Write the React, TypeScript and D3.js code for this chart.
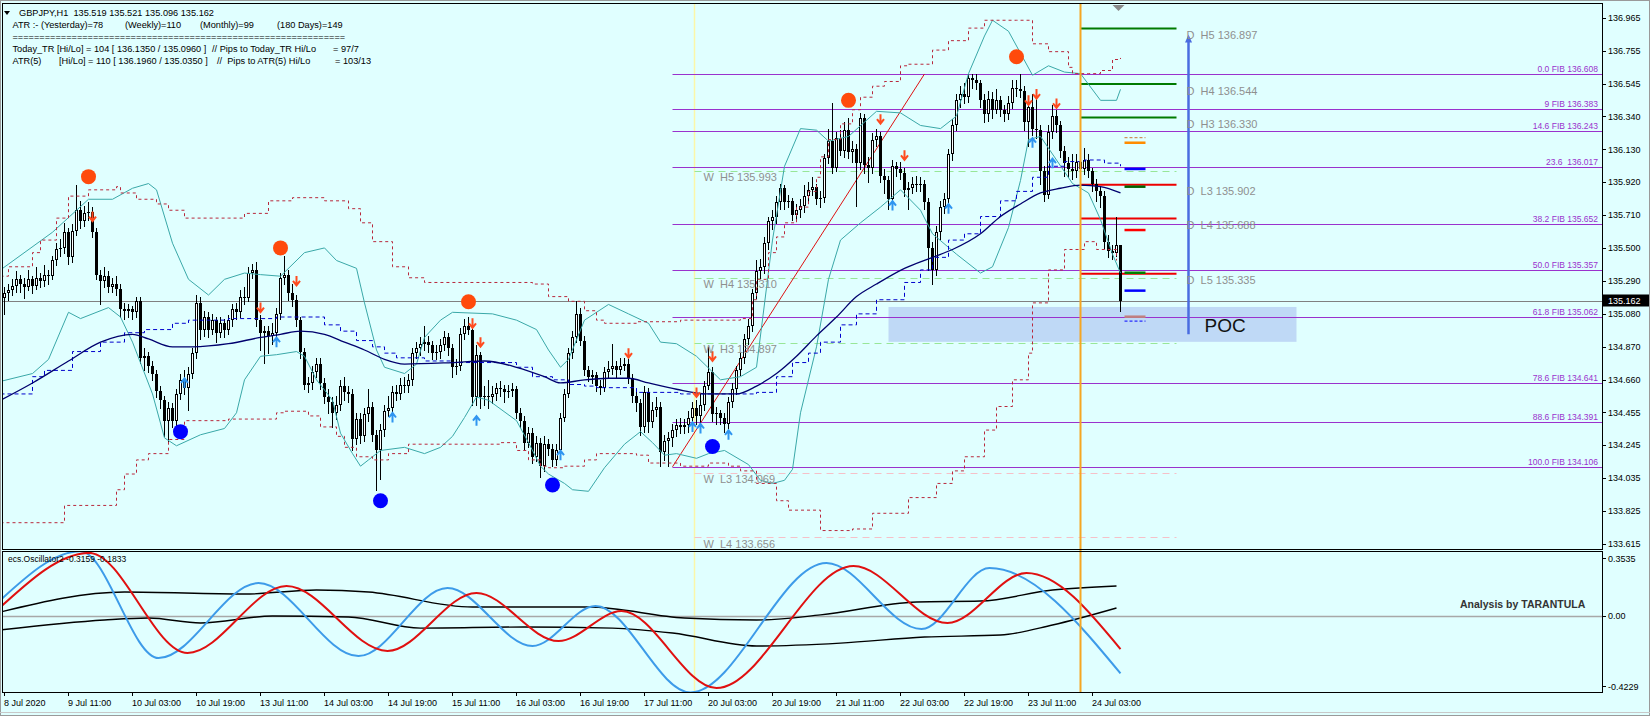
import React from "react";
import * as d3 from "d3";

// ---------------- DATA ----------------
// H1 candles [open, high, low, close]; bar 0 = 8 Jul 2020 19:00
const candles: number[][] = [
  [135.18,135.25,135.08,135.21],[135.21,135.27,135.17,135.23],[135.23,135.30,135.20,135.26],[135.26,135.35,135.22,135.30],[135.30,135.33,135.22,135.27],[135.27,135.31,135.18,135.25],[135.25,135.36,135.23,135.30],[135.30,135.32,135.21,135.26],
  [135.26,135.38,135.24,135.31],[135.31,135.34,135.25,135.29],[135.29,135.39,135.26,135.33],[135.33,135.36,135.27,135.32],[135.32,135.45,135.30,135.42],[135.42,135.53,135.39,135.49],[135.49,135.56,135.45,135.50],[135.50,135.66,135.47,135.60],
  [135.60,135.63,135.40,135.44],[135.44,135.65,135.41,135.61],[135.61,135.90,135.58,135.74],[135.74,135.80,135.63,135.67],[135.67,135.77,135.64,135.72],[135.72,135.79,135.68,135.73],[135.73,135.76,135.57,135.60],[135.60,135.63,135.30,135.33],
  [135.33,135.36,135.14,135.29],[135.29,135.38,135.25,135.32],[135.32,135.35,135.22,135.25],[135.25,135.31,135.22,135.27],[135.27,135.32,135.20,135.24],[135.24,135.27,135.06,135.11],[135.11,135.15,135.05,135.10],[135.10,135.14,135.06,135.11],
  [135.11,135.13,135.05,135.09],[135.09,135.19,135.06,135.16],[135.16,135.19,134.77,134.80],[134.80,134.86,134.72,134.81],[134.81,134.84,134.71,134.75],[134.75,134.78,134.66,134.70],[134.70,134.72,134.55,134.59],[134.59,134.62,134.48,134.53],
  [134.53,134.56,134.30,134.40],[134.40,134.52,134.27,134.48],[134.48,134.51,134.36,134.40],[134.40,134.60,134.37,134.57],[134.57,134.70,134.54,134.66],[134.66,134.72,134.57,134.61],[134.61,134.74,134.47,134.70],[134.70,134.86,134.67,134.83],
  [134.83,135.20,134.80,135.15],[135.15,135.19,134.92,134.98],[134.98,135.10,134.94,135.06],[135.06,135.09,134.93,134.98],[134.98,135.08,134.95,135.04],[135.04,135.06,134.90,134.96],[134.96,135.06,134.93,135.02],[135.02,135.05,134.93,134.98],
  [134.98,135.07,134.95,135.04],[135.04,135.14,135.00,135.11],[135.11,135.15,135.05,135.09],[135.09,135.23,135.06,135.19],[135.19,135.25,135.14,135.18],[135.18,135.38,135.16,135.34],[135.34,135.40,135.31,135.36],[135.36,135.41,135.00,135.04],
  [135.04,135.07,134.85,134.96],[134.96,135.00,134.77,134.97],[134.97,135.00,134.83,134.94],[134.94,135.02,134.89,134.96],[134.96,135.12,134.92,135.08],[135.08,135.34,135.05,135.31],[135.31,135.45,135.27,135.33],[135.33,135.36,135.17,135.21],
  [135.21,135.27,135.13,135.17],[135.17,135.20,135.00,135.04],[135.04,135.06,134.80,134.84],[134.84,134.86,134.60,134.63],[134.63,134.68,134.58,134.64],[134.64,134.75,134.60,134.71],[134.71,134.80,134.68,134.76],[134.76,134.80,134.60,134.64],
  [134.64,134.67,134.51,134.55],[134.55,134.60,134.45,134.52],[134.52,134.55,134.36,134.45],[134.45,134.56,134.41,134.50],[134.50,134.66,134.47,134.62],[134.62,134.68,134.53,134.58],[134.58,134.62,134.52,134.57],[134.57,134.60,134.21,134.28],
  [134.28,134.45,134.25,134.41],[134.41,134.45,134.26,134.30],[134.30,134.48,134.27,134.44],[134.44,134.60,134.40,134.49],[134.49,134.52,134.27,134.31],[134.31,134.34,133.96,134.21],[134.21,134.38,134.03,134.34],[134.34,134.50,134.30,134.46],
  [134.46,134.56,134.43,134.48],[134.48,134.62,134.44,134.58],[134.58,134.63,134.53,134.57],[134.57,134.67,134.54,134.63],[134.63,134.68,134.58,134.62],[134.62,134.70,134.58,134.66],[134.66,134.86,134.63,134.83],[134.83,134.90,134.80,134.86],
  [134.86,134.93,134.82,134.89],[134.89,135.00,134.85,134.90],[134.90,134.94,134.84,134.88],[134.88,134.91,134.79,134.83],[134.83,134.88,134.79,134.84],[134.84,134.92,134.80,134.88],[134.88,134.97,134.85,134.93],[134.93,134.96,134.82,134.86],
  [134.86,134.89,134.68,134.74],[134.74,134.79,134.70,134.75],[134.75,134.99,134.72,134.95],[134.95,135.05,134.92,135.00],[135.00,135.06,134.95,134.98],[134.98,135.01,134.50,134.55],[134.55,134.88,134.50,134.82],[134.82,134.84,134.48,134.55],
  [134.55,134.62,134.50,134.56],[134.56,134.66,134.48,134.55],[134.55,134.62,134.51,134.57],[134.57,134.64,134.53,134.61],[134.61,134.65,134.56,134.60],[134.60,134.63,134.52,134.58],[134.58,134.63,134.55,134.59],[134.59,134.64,134.56,134.60],
  [134.60,134.62,134.42,134.45],[134.45,134.48,134.36,134.40],[134.40,134.43,134.22,134.26],[134.26,134.36,134.23,134.32],[134.32,134.35,134.13,134.17],[134.17,134.30,134.14,134.26],[134.26,134.29,134.04,134.11],[134.11,134.30,134.08,134.25],
  [134.25,134.28,134.18,134.22],[134.22,134.25,134.11,134.15],[134.15,134.25,134.12,134.21],[134.21,134.45,134.19,134.42],[134.42,134.60,134.40,134.57],[134.57,134.86,134.55,134.83],[134.83,134.97,134.80,134.93],[134.93,135.16,134.90,135.08],
  [135.08,135.12,134.88,134.91],[134.91,134.94,134.69,134.72],[134.72,134.75,134.65,134.68],[134.68,134.72,134.64,134.69],[134.69,134.71,134.59,134.62],[134.62,134.66,134.57,134.61],[134.61,134.74,134.59,134.71],[134.71,134.78,134.68,134.73],
  [134.73,134.89,134.70,134.75],[134.75,134.78,134.68,134.72],[134.72,134.80,134.70,134.75],[134.75,134.80,134.72,134.76],[134.76,134.79,134.64,134.67],[134.67,134.70,134.52,134.56],[134.56,134.60,134.46,134.51],[134.51,134.54,134.31,134.36],
  [134.36,134.62,134.33,134.58],[134.58,134.61,134.33,134.39],[134.39,134.52,134.36,134.47],[134.47,134.55,134.43,134.49],[134.49,134.52,134.11,134.20],[134.20,134.31,134.15,134.27],[134.27,134.33,134.11,134.29],[134.29,134.38,134.24,134.34],
  [134.34,134.41,134.30,134.37],[134.37,134.42,134.32,134.36],[134.36,134.41,134.32,134.37],[134.37,134.46,134.33,134.42],[134.42,134.52,134.38,134.48],[134.48,134.53,134.38,134.43],[134.43,134.57,134.38,134.50],[134.50,134.65,134.47,134.62],
  [134.62,134.87,134.60,134.71],[134.71,134.74,134.40,134.44],[134.44,134.49,134.38,134.45],[134.45,134.47,134.38,134.42],[134.42,134.45,134.33,134.38],[134.38,134.55,134.35,134.52],[134.52,134.64,134.49,134.60],[134.60,134.75,134.57,134.72],
  [134.72,134.84,134.69,134.80],[134.80,134.95,134.77,134.92],[134.92,135.05,134.89,135.00],[135.00,135.24,134.97,135.21],[135.21,135.42,135.18,135.35],[135.35,135.43,135.31,135.38],[135.38,135.57,135.34,135.53],[135.53,135.70,135.49,135.67],
  [135.67,135.74,135.62,135.70],[135.70,135.83,135.66,135.79],[135.79,135.91,135.75,135.88],[135.88,135.90,135.75,135.79],[135.79,135.84,135.76,135.80],[135.80,135.82,135.68,135.71],[135.71,135.78,135.68,135.74],[135.74,135.81,135.70,135.77],
  [135.77,135.90,135.73,135.83],[135.83,135.92,135.79,135.87],[135.87,135.95,135.84,135.89],[135.89,135.91,135.78,135.81],[135.81,135.86,135.76,135.82],[135.82,136.10,135.79,136.07],[136.07,136.26,136.04,136.18],[136.18,136.42,135.98,136.01],
  [136.01,136.24,135.99,136.20],[136.20,136.25,136.09,136.12],[136.12,136.30,136.08,136.25],[136.25,136.33,136.07,136.11],[136.11,136.18,136.05,136.13],[136.13,136.16,135.77,136.04],[136.04,136.36,136.00,136.33],[136.33,136.35,135.98,136.03],
  [136.03,136.08,135.92,136.01],[136.01,136.23,135.98,136.19],[136.19,136.26,136.15,136.21],[136.21,136.24,135.92,135.96],[135.96,136.00,135.85,135.93],[135.93,135.96,135.75,135.81],[135.81,136.06,135.78,136.02],[136.02,136.05,135.96,136.00],
  [136.00,136.05,135.94,135.98],[135.98,136.01,135.83,135.87],[135.87,135.92,135.75,135.88],[135.88,135.95,135.85,135.91],[135.91,135.96,135.86,135.90],[135.90,135.95,135.86,135.91],[135.91,135.93,135.75,135.79],[135.79,135.82,135.36,135.50],
  [135.50,135.54,135.27,135.36],[135.36,135.64,135.33,135.60],[135.60,135.80,135.56,135.76],[135.76,135.85,135.72,135.81],[135.81,136.13,135.78,136.10],[136.10,136.32,136.06,136.28],[136.28,136.48,136.25,136.44],[136.44,136.53,136.40,136.48],
  [136.48,136.55,136.42,136.46],[136.46,136.61,136.43,136.58],[136.58,136.61,136.52,136.57],[136.57,136.61,136.51,136.55],[136.55,136.57,136.40,136.44],[136.44,136.48,136.30,136.35],[136.35,136.50,136.31,136.45],[136.45,136.49,136.33,136.38],
  [136.38,136.51,136.36,136.44],[136.44,136.47,136.34,136.38],[136.38,136.41,136.31,136.35],[136.35,136.47,136.32,136.42],[136.42,136.57,136.39,136.52],[136.52,136.57,136.47,136.51],[136.51,136.61,136.46,136.50],[136.50,136.53,136.25,136.30],
  [136.30,136.46,136.15,136.40],[136.40,136.48,136.22,136.26],[136.26,136.45,136.20,136.25],[136.25,136.28,135.91,135.99],[135.99,136.02,135.80,135.84],[135.84,136.28,135.82,136.24],[136.24,136.41,136.20,136.34],[136.34,136.38,136.24,136.28],
  [136.28,136.31,136.08,136.12],[136.12,136.15,135.96,136.04],[136.04,136.08,135.95,136.00],[136.00,136.10,135.94,135.99],[135.99,136.10,135.95,136.05],[136.05,136.11,135.96,136.00],[136.00,136.135,135.97,136.06],[136.06,136.10,135.95,135.99],
  [135.99,136.01,135.86,135.91],[135.91,135.94,135.80,135.86],[135.86,135.89,135.76,135.83],[135.83,135.86,135.50,135.54],[135.54,135.58,135.44,135.48],[135.48,135.52,135.43,135.47],[135.47,135.70,135.45,135.519],[135.519,135.521,135.096,135.162],
];

// indicator key points [bar index, price]
const bbUpper = [[-1,135.36],[12,135.60],[21,135.81],[27,135.81],[32,135.88],[36,135.91],[38,135.87],[42,135.53],[46,135.30],[51,135.20],[55,135.30],[60,135.34],[64,135.33],[69,135.32],[75,135.47],[80,135.50],[83,135.42],[88,135.37],[90,135.15],[93,134.85],[95,134.74],[100,134.70],[103,134.76],[105,134.93],[109,135.04],[112,135.09],[122,135.08],[128,135.04],[133,134.98],[136,134.85],[139,134.74],[141,134.79],[145,135.04],[151,135.14],[156,135.08],[161,135.02],[164,134.90],[168,134.89],[173,134.81],[179,134.66],[184,134.68],[188,134.74],[192,135.55],[195,136.02],[199,136.26],[203,136.25],[206,136.18],[211,136.21],[218,136.37],[224,136.36],[229,136.28],[234,136.26],[238,136.34],[241,136.61],[245,136.85],[247,136.95],[251,136.88],[254,136.74],[257,136.60],[261,136.66],[265,136.62],[269,136.61],[274,136.44],[278,136.44],[279,136.51]];
const bbLower = [[-1,134.65],[7,134.70],[11,134.79],[16,135.09],[19,135.05],[26,135.12],[29,135.06],[32,134.90],[37,134.57],[40,134.29],[43,134.24],[49,134.31],[55,134.35],[58,134.45],[60,134.66],[64,134.81],[68,134.82],[73,134.84],[75,134.81],[78,134.66],[82,134.53],[84,134.32],[87,134.19],[89,134.11],[91,134.15],[94,134.21],[100,134.23],[105,134.19],[109,134.23],[112,134.30],[115,134.42],[118,134.55],[121,134.53],[128,134.40],[131,134.26],[134,134.11],[136,134.06],[140,134.00],[142,133.96],[146,133.95],[150,134.10],[155,134.25],[159,134.33],[162,134.26],[165,134.18],[168,134.19],[173,134.16],[176,134.19],[180,134.21],[186,134.12],[189,134.02],[192,134.00],[195,134.02],[197,134.09],[199,134.45],[203,134.87],[206,135.30],[209,135.55],[214,135.66],[219,135.76],[224,135.87],[229,135.74],[232,135.59],[238,135.46],[244,135.34],[247,135.38],[251,135.63],[254,135.93],[256,136.19],[259,136.21],[263,136.06],[267,135.91],[271,135.85],[274,135.68],[277,135.46],[279,135.34]];
const maSlow = [[-1,134.53],[7,134.64],[16,134.78],[24,134.90],[32,134.95],[36,134.92],[42,134.87],[47,134.87],[56,134.89],[64,134.93],[69,134.95],[74,134.97],[80,134.95],[85,134.90],[90,134.85],[95,134.79],[100,134.76],[112,134.77],[120,134.78],[128,134.74],[135,134.68],[139,134.64],[145,134.66],[151,134.67],[156,134.67],[161,134.64],[168,134.60],[176,134.57],[183,134.57],[188,134.62],[193,134.70],[198,134.81],[203,134.94],[208,135.06],[213,135.19],[218,135.27],[225,135.37],[232,135.44],[237,135.49],[244,135.59],[249,135.70],[254,135.78],[259,135.85],[264,135.88],[269,135.90],[274,135.89],[279,135.85]];
const maHtf = [[-1,134.57],[7,134.68],[10,134.72],[17,134.84],[24,134.90],[30,134.96],[35,134.98],[42,135.02],[46,135.04],[56,135.05],[68,135.06],[76,135.06],[80,135.01],[84,134.97],[88,134.91],[92,134.87],[95,134.83],[98,134.80],[105,134.78],[112,134.77],[124,134.77],[128,134.74],[132,134.68],[137,134.66],[141,134.63],[145,134.62],[148,134.61],[153,134.61],[158,134.58],[169,134.57],[188,134.58],[193,134.68],[197,134.77],[201,134.83],[204,134.90],[209,135.01],[213,135.08],[218,135.17],[225,135.28],[229,135.36],[232,135.44],[236,135.55],[240,135.59],[244,135.70],[249,135.80],[253,135.86],[257,135.95],[261,136.02],[265,136.05],[270,136.06],[275,136.04],[279,136.02]];
const envUpper = [[-1,135.32],[1,135.38],[7,135.47],[9,135.55],[13,135.69],[16,135.83],[21,135.87],[28,135.89],[29,135.85],[33,135.81],[38,135.78],[41,135.74],[45,135.69],[56,135.69],[60,135.72],[66,135.80],[72,135.82],[80,135.80],[86,135.75],[89,135.66],[92,135.54],[97,135.38],[101,135.31],[105,135.28],[132,135.27],[136,135.19],[141,135.16],[145,135.10],[148,135.04],[150,135.02],[158,135.03],[169,135.04],[184,135.05],[187,135.17],[188,135.30],[191,135.47],[193,135.57],[195,135.66],[198,135.76],[201,135.86],[203,135.95],[204,136.08],[206,136.19],[209,136.29],[212,136.38],[214,136.46],[217,136.53],[220,136.56],[224,136.66],[226,136.67],[232,136.76],[236,136.82],[241,136.90],[245,136.95],[253,136.95],[257,136.80],[261,136.75],[266,136.65],[267,136.61],[271,136.61],[274,136.63],[277,136.70],[279,136.71]];
const envLower = [[-1,133.75],[15,133.86],[28,133.96],[30,134.06],[33,134.15],[36,134.19],[41,134.28],[45,134.40],[56,134.41],[68,134.45],[70,134.46],[76,134.43],[79,134.36],[83,134.30],[85,134.23],[88,134.17],[92,134.15],[96,134.19],[101,134.25],[124,134.26],[128,134.21],[131,134.15],[134,134.11],[136,134.10],[140,134.11],[145,134.15],[148,134.19],[158,134.18],[161,134.13],[169,134.11],[176,134.13],[181,134.11],[184,134.08],[188,134.00],[193,133.89],[196,133.83],[204,133.70],[212,133.71],[217,133.81],[226,133.91],[233,134.00],[237,134.08],[240,134.17],[245,134.34],[248,134.49],[252,134.66],[256,134.83],[257,135.15],[261,135.36],[265,135.49],[270,135.54],[273,135.49],[278,135.42]];

const fractalUp = [[21,135.954],[69,135.50],[116,135.157],[211,136.44],[253,136.718]];
const fractalDown = [[44,134.33],[94,133.89],[137,133.99],[177,134.235]];
const sellArrows = [[22,135.70],[64,135.12],[73,135.29],[117,135.02],[119,134.90],[156,134.83],[173,134.58],[177,134.81],[219,136.32],[225,136.09],[256,136.44],[258,136.48],[263,136.42]];
const buyArrows = [[45,134.64],[68,134.90],[97,134.42],[118,134.40],[139,134.18],[172,134.36],[174,134.35],[181,134.31],[222,135.77],[236,135.75],[257,136.17],[262,136.04]];

const fibLabels = ["0.0 FIB 136.608","9 FIB 136.383","14.6 FIB 136.243","23.6  136.017","38.2 FIB 135.652","50.0 FIB 135.357","61.8 FIB 135.062","78.6 FIB 134.641","88.6 FIB 134.391","100.0 FIB 134.106"];
const fibPrices = [136.608,136.383,136.243,136.017,135.652,135.357,135.062,134.641,134.391,134.106];
const fibStartBar = 167;
const fibTrend = [[167,134.106],[230,136.608]];

const weeklyNames = ["H5","H4","H3","L3","L4"];
const weeklyPrices = [135.993,135.310,134.897,134.069,133.656];
const dailyNames = ["H5","H4","H3","L3","L4","L5"];
const dailyPrices = [136.897,136.544,136.330,135.902,135.688,135.335];
const levelMarks = [[136.202,"#c87830",1],[136.170,"#ff8c00",0],[136.003,"#0000ff",0],[135.890,"#006400",0],[135.614,"#ff0000",0],[135.342,"#008000",0],[135.228,"#0000ff",0],[135.062,"#c08080",0],[135.034,"#0000ff",1]];
const pocRange = [134.902,135.124];
const pocBars = [221,323];
const rangeArrow = [134.95,136.86];
const rangeArrowBar = 296;
const weekStartBar = 173;
const dayStartBar = 269;
const lineEndBar = 293;
const lastPrice = 135.162;

const priceTicks = [136.965,136.755,136.545,136.340,136.130,135.920,135.710,135.500,135.290,135.080,134.870,134.660,134.455,134.245,134.035,133.825,133.615];
const timeTickBars = [0,16,32,48,64,80,96,112,128,144,160,176,192,208,224,240,256,272];
const timeTickLabels = ["8 Jul 2020","9 Jul 11:00","10 Jul 03:00","10 Jul 19:00","13 Jul 11:00","14 Jul 03:00","14 Jul 19:00","15 Jul 11:00","16 Jul 03:00","16 Jul 19:00","17 Jul 11:00","20 Jul 03:00","20 Jul 19:00","21 Jul 11:00","22 Jul 03:00","22 Jul 19:00","23 Jul 11:00","24 Jul 03:00"];

// oscillator key points [bar index, value]
const oscFast = [[-1,0.086],[19,0.352],[38.5,-0.232],[63.5,0.178],[88.5,-0.221],[110.75,0.151],[132,-0.166],[147.75,0.053],[171.5,-0.42],[205.5,0.288],[229.25,-0.073],[246.25,0.26],[279,-0.3159]];
const oscSlow = [[-1,0.047],[21.25,0.343],[45.75,-0.204],[70.5,0.162],[95.75,-0.193],[118,0.124],[138.5,-0.139],[154.25,0.025],[178,-0.396],[212.25,0.271],[235.75,-0.04],[255.5,0.233],[279,-0.1833]];
const oscBandUp = [[-1,0.02],[30,0.129],[60,0.118],[78,0.14],[91,0.129],[117,0.047],[146,0.047],[170,-0.013],[188,-0.024],[204,0.004],[228,0.075],[244,0.08],[262,0.14],[278,0.162]];
const oscBandDn = [[-1,-0.078],[25,-0.024],[36,-0.013],[49,-0.04],[67,-0.002],[86,-0.007],[104,-0.068],[130,-0.062],[152,-0.068],[167,-0.095],[188,-0.166],[209,-0.15],[230,-0.117],[249,-0.106],[262,-0.051],[278,0.042]];
const oscTicks = [0.3535,0,-0.4229];
const oscTickLabels = ["0.3535","0.00","-0.4229"];

const headerLines = [
  [[19,"GBPJPY,H1  135.519 135.521 135.096 135.162"]],
  [[12.5,"ATR :- (Yesterday)=78"],[125,"(Weekly)=110"],[200,"(Monthly)=99"],[277,"(180 Days)=149"]],
  [[12.5,"=============================================================="]],
  [[12.5,"Today_TR [Hi/Lo] = 104 [ 136.1350 / 135.0960 ]"],[212,"// Pips to Today_TR Hi/Lo"],[333,"= 97/7"]],
  [[12.5,"ATR(5)"],[59,"[Hi/Lo] = 110 [ 136.1960 / 135.0350 ]"],[217,"//  Pips to ATR(5) Hi/Lo"],[335,"= 103/13"]],
];
const headerBaselines = [15.5, 27.5, 39.5, 51.5, 63.5];

// ---------------- STYLE / LAYOUT ----------------
const W = 1650, H = 716;
const BG = "#e0ffff";
const FONT = "'Liberation Sans', Arial, sans-serif";
const plotL = 2, plotR = 1602, mainT = 4, mainB = 549, oscT = 552, oscB = 692;
const FIB = "#9a32cd";

export default function App() {
  const x = d3.scaleLinear().domain([0, 1]).range([4.5, 8.5]);
  const y = d3.scaleLinear().domain([133.615, 136.965]).range([543.9, 17.9]);
  const yo = d3.scaleLinear().domain([-0.4229, 0.3535]).range([693, 551]);
  const py = (v: number) => Math.round(y(v)) + 0.5;

  const lin = d3.line<number[]>().x(d => x(d[0])).y(d => y(d[1]));
  const smooth = d3.line<number[]>().x(d => x(d[0])).y(d => y(d[1])).curve(d3.curveMonotoneX);
  const step = d3.line<number[]>().x(d => x(d[0])).y(d => y(d[1])).curve(d3.curveStepAfter);
  const osc = d3.line<number[]>().x(d => x(d[0])).y(d => yo(d[1])).curve(d3.curveMonotoneX);

  const lastX = x(candles.length - 1);
  const pivotEnd = x(lineEndBar);

  return (
    <div style={{ width: W, height: H, overflow: "hidden" }}>
      <style>{`html,body{margin:0;padding:0;background:${BG};}`}</style>
      <svg width={W} height={H} style={{ display: "block", fontFamily: FONT }}>
        <defs>
          <clipPath id="mainClip"><rect x={plotL} y={mainT} width={plotR - plotL} height={mainB - mainT} /></clipPath>
          <clipPath id="oscClip"><rect x={plotL} y={oscT} width={plotR - plotL} height={oscB - oscT} /></clipPath>
        </defs>
        <rect x={0} y={0} width={W} height={H} fill={BG} />

        {/* ---------- MAIN PANEL ---------- */}
        <g clipPath="url(#mainClip)">
          <rect x={x(pocBars[0])} y={y(pocRange[1])} width={x(pocBars[1]) - x(pocBars[0])} height={y(pocRange[0]) - y(pocRange[1])} fill="#bfd9f6" />
          <line x1={x(weekStartBar) - 2} x2={x(weekStartBar) - 2} y1={mainT} y2={mainB} stroke="#fbf6a8" strokeWidth={1.5} />
          {weeklyPrices.map((p, k) => (
            <line key={"w" + k} x1={x(weekStartBar) - 2} x2={pivotEnd} y1={py(p)} y2={py(p)}
              stroke={weeklyNames[k][0] === "H" ? "#98e698" : "#f6c0c8"} strokeDasharray="7,5" />
          ))}
          {fibPrices.map((p, k) => (
            <line key={"f" + k} x1={x(fibStartBar)} x2={plotR} y1={py(p)} y2={py(p)} stroke={FIB} strokeWidth={1} />
          ))}
          <line x1={plotL} x2={plotR} y1={py(lastPrice)} y2={py(lastPrice)} stroke="#808080" />
          {dailyPrices.map((p, k) => (
            <line key={"d" + k} x1={x(dayStartBar)} x2={pivotEnd} y1={y(p)} y2={y(p)}
              stroke={dailyNames[k][0] === "H" ? "#007a00" : "#ee0000"} strokeWidth={2} />
          ))}
          <path d={lin(fibTrend) || ""} stroke="#dd1111" strokeWidth={1} fill="none" />

          {candles.map((c, i) => {
            const [o, h, l, cl] = c;
            const cx = x(i);
            const top = Math.round(y(Math.max(o, cl)));
            const bot = Math.round(y(Math.min(o, cl)));
            const bh = Math.max(1, bot - top);
            const bull = cl >= o;
            return (
              <g key={"c" + i}>
                <line x1={cx} x2={cx} y1={Math.round(y(h))} y2={Math.round(y(l)) + 1} stroke="#000" />
                <rect x={cx - 1.5} y={top} width={3} height={bh} fill="#000" />
                {bull && bh > 2 && <rect x={cx - 0.5} y={top + 1} width={1} height={bh - 2} fill="#fff" />}
              </g>
            );
          })}

          <path d={lin(bbUpper) || ""} stroke="#3aa8a8" strokeWidth={1} fill="none" />
          <path d={lin(bbLower) || ""} stroke="#3aa8a8" strokeWidth={1} fill="none" />
          <path d={step(envUpper) || ""} stroke="#b8283c" strokeWidth={1} strokeDasharray="3,3" fill="none" />
          <path d={step(envLower) || ""} stroke="#b8283c" strokeWidth={1} strokeDasharray="3,3" fill="none" />
          <path d={step(maHtf) || ""} stroke="#0000cd" strokeWidth={1} strokeDasharray="4,3" fill="none" />
          <path d={smooth(maSlow) || ""} stroke="#00006e" strokeWidth={1.3} fill="none" />

          {levelMarks.map((m, k) => (
            <line key={"m" + k} x1={lastX + 4} x2={lastX + 25} y1={y(m[0] as number)} y2={y(m[0] as number)}
              stroke={m[1] as string} strokeWidth={m[2] ? 1 : 2.5} strokeDasharray={m[2] ? "3,2" : undefined} />
          ))}

          {sellArrows.map((a, k) => {
            const cx = x(a[0]), cy = y(a[1]);
            return <path key={"s" + k} d={`M${cx},${cy - 5}V${cy + 4}M${cx - 3.5},${cy}L${cx},${cy + 4.5}L${cx + 3.5},${cy}`} stroke="#ff4b1f" strokeWidth={2} fill="none" />;
          })}
          {buyArrows.map((a, k) => {
            const cx = x(a[0]), cy = y(a[1]);
            return <path key={"b" + k} d={`M${cx},${cy + 5}V${cy - 4}M${cx - 3.5},${cy}L${cx},${cy - 4.5}L${cx + 3.5},${cy}`} stroke="#2f95f0" strokeWidth={2} fill="none" />;
          })}
          {fractalUp.map((f, k) => <circle key={"fu" + k} cx={x(f[0])} cy={y(f[1])} r={7.5} fill="#ff4a0c" />)}
          {fractalDown.map((f, k) => <circle key={"fd" + k} cx={x(f[0])} cy={y(f[1])} r={7.5} fill="#0000ff" />)}

          <line x1={x(rangeArrowBar)} x2={x(rangeArrowBar)} y1={y(rangeArrow[0])} y2={y(rangeArrow[1]) + 6} stroke="#4a6ce0" strokeWidth={2.5} />
          <path d={`M${x(rangeArrowBar) - 3.5},${y(rangeArrow[1]) + 8}L${x(rangeArrowBar)},${y(rangeArrow[1])}L${x(rangeArrowBar) + 3.5},${y(rangeArrow[1]) + 8}Z`} fill="#4a6ce0" />

          {weeklyPrices.map((p, k) => (
            <text key={"wl" + k} x={x(weekStartBar) + 7} y={y(p) + 10.5} fontSize={11} fill="#8f8f8f" style={{ whiteSpace: "pre" }}>
              {`W  ${weeklyNames[k]} ${p.toFixed(3)}`}
            </text>
          ))}
          {dailyPrices.map((p, k) => (
            <text key={"dl" + k} x={pivotEnd + 10} y={y(p) + 10.5} fontSize={11} fill="#8f8f8f" style={{ whiteSpace: "pre" }}>
              {`D  ${dailyNames[k]} ${p.toFixed(3)}`}
            </text>
          ))}
          {fibLabels.map((t, k) => (
            <text key={"fl" + k} x={plotR - 4} y={y(fibPrices[k]) - 2} fontSize={8.5} fill={FIB} textAnchor="end" style={{ whiteSpace: "pre" }}>{t}</text>
          ))}
          <text x={pivotEnd + 28} y={y(pocRange[0]) - 10} fontSize={19} fill="#111">POC</text>
        </g>
        <path d={`M${lastX - 8},${mainT + 1}L${lastX + 4},${mainT + 1}L${lastX - 2},${mainT + 7}Z`} fill="#8a8a8a" />

        <path d="M4,11L10,11L7,15Z" fill="#000" />
        {headerLines.map((ln, r) => ln.map((seg, s) => (
          <text key={`h${r}-${s}`} x={seg[0] as number} y={headerBaselines[r]} fontSize={9.2} fill="#000" style={{ whiteSpace: "pre" }}>{seg[1] as string}</text>
        )))}

        {/* ---------- OSCILLATOR PANEL ---------- */}
        <g clipPath="url(#oscClip)">
          <line x1={x(weekStartBar) - 2} x2={x(weekStartBar) - 2} y1={oscT} y2={oscB} stroke="#fbf6a8" strokeWidth={1.5} />
          <line x1={plotL} x2={plotR} y1={Math.round(yo(0)) + 0.5} y2={Math.round(yo(0)) + 0.5} stroke="#a8a8a8" strokeWidth={1.5} />
          <path d={osc(oscBandUp) || ""} stroke="#000" strokeWidth={1.4} fill="none" />
          <path d={osc(oscBandDn) || ""} stroke="#000" strokeWidth={1.4} fill="none" />
          <path d={osc(oscFast) || ""} stroke="#3d9be9" strokeWidth={2} fill="none" />
          <path d={osc(oscSlow) || ""} stroke="#e01010" strokeWidth={2} fill="none" />
        </g>
        <text x={8} y={oscT + 10} fontSize={8.5} fill="#000">ecs.Oscillator2 -0.3159 -0.1833</text>
        <text x={1460} y={608} fontSize={10.5} fontWeight="bold" fill="#333">Analysis by TARANTULA</text>

        <line x1={x(dayStartBar)} x2={x(dayStartBar)} y1={mainT} y2={oscB} stroke="#f5a623" strokeWidth={2} />

        <rect x={plotL + 0.5} y={mainT - 0.5} width={plotR - plotL} height={mainB - mainT + 1} fill="none" stroke="#000" />
        <rect x={plotL + 0.5} y={oscT - 0.5} width={plotR - plotL} height={oscB - oscT + 1} fill="none" stroke="#000" />

        {priceTicks.map((t, k) => (
          <g key={"pt" + k}>
            <line x1={plotR} x2={plotR + 4} y1={py(t)} y2={py(t)} stroke="#000" />
            <text x={plotR + 6} y={y(t) + 3.5} fontSize={9} fill="#000">{t.toFixed(3)}</text>
          </g>
        ))}
        <rect x={plotR + 1} y={y(lastPrice) - 6.5} width={W - plotR - 1} height={12} fill="#000" />
        <text x={plotR + 6} y={y(lastPrice) + 3.5} fontSize={9} fill="#fff">{lastPrice.toFixed(3)}</text>

        {oscTicks.map((t, k) => {
          const ty = Math.min(Math.max(yo(t), oscT + 6), oscB - 6);
          return (
            <g key={"ot" + k}>
              <line x1={plotR} x2={plotR + 4} y1={Math.round(ty) + 0.5} y2={Math.round(ty) + 0.5} stroke="#000" />
              <text x={plotR + 6} y={ty + 3.5} fontSize={9} fill="#000">{oscTickLabels[k]}</text>
            </g>
          );
        })}

        {timeTickBars.map((b, k) => (
          <g key={"tt" + k}>
            <line x1={x(b)} x2={x(b)} y1={oscB} y2={oscB + 4} stroke="#000" />
            <text x={x(b) - 0.5} y={706} fontSize={9} fill="#000">{timeTickLabels[k]}</text>
          </g>
        ))}

        <rect x={0.5} y={0.5} width={W - 1} height={H - 1} fill="none" stroke="#9a9a9a" />
        <line x1={0} x2={W} y1={712.5} y2={712.5} stroke="#c8c8c8" />
      </svg>
    </div>
  );
}
